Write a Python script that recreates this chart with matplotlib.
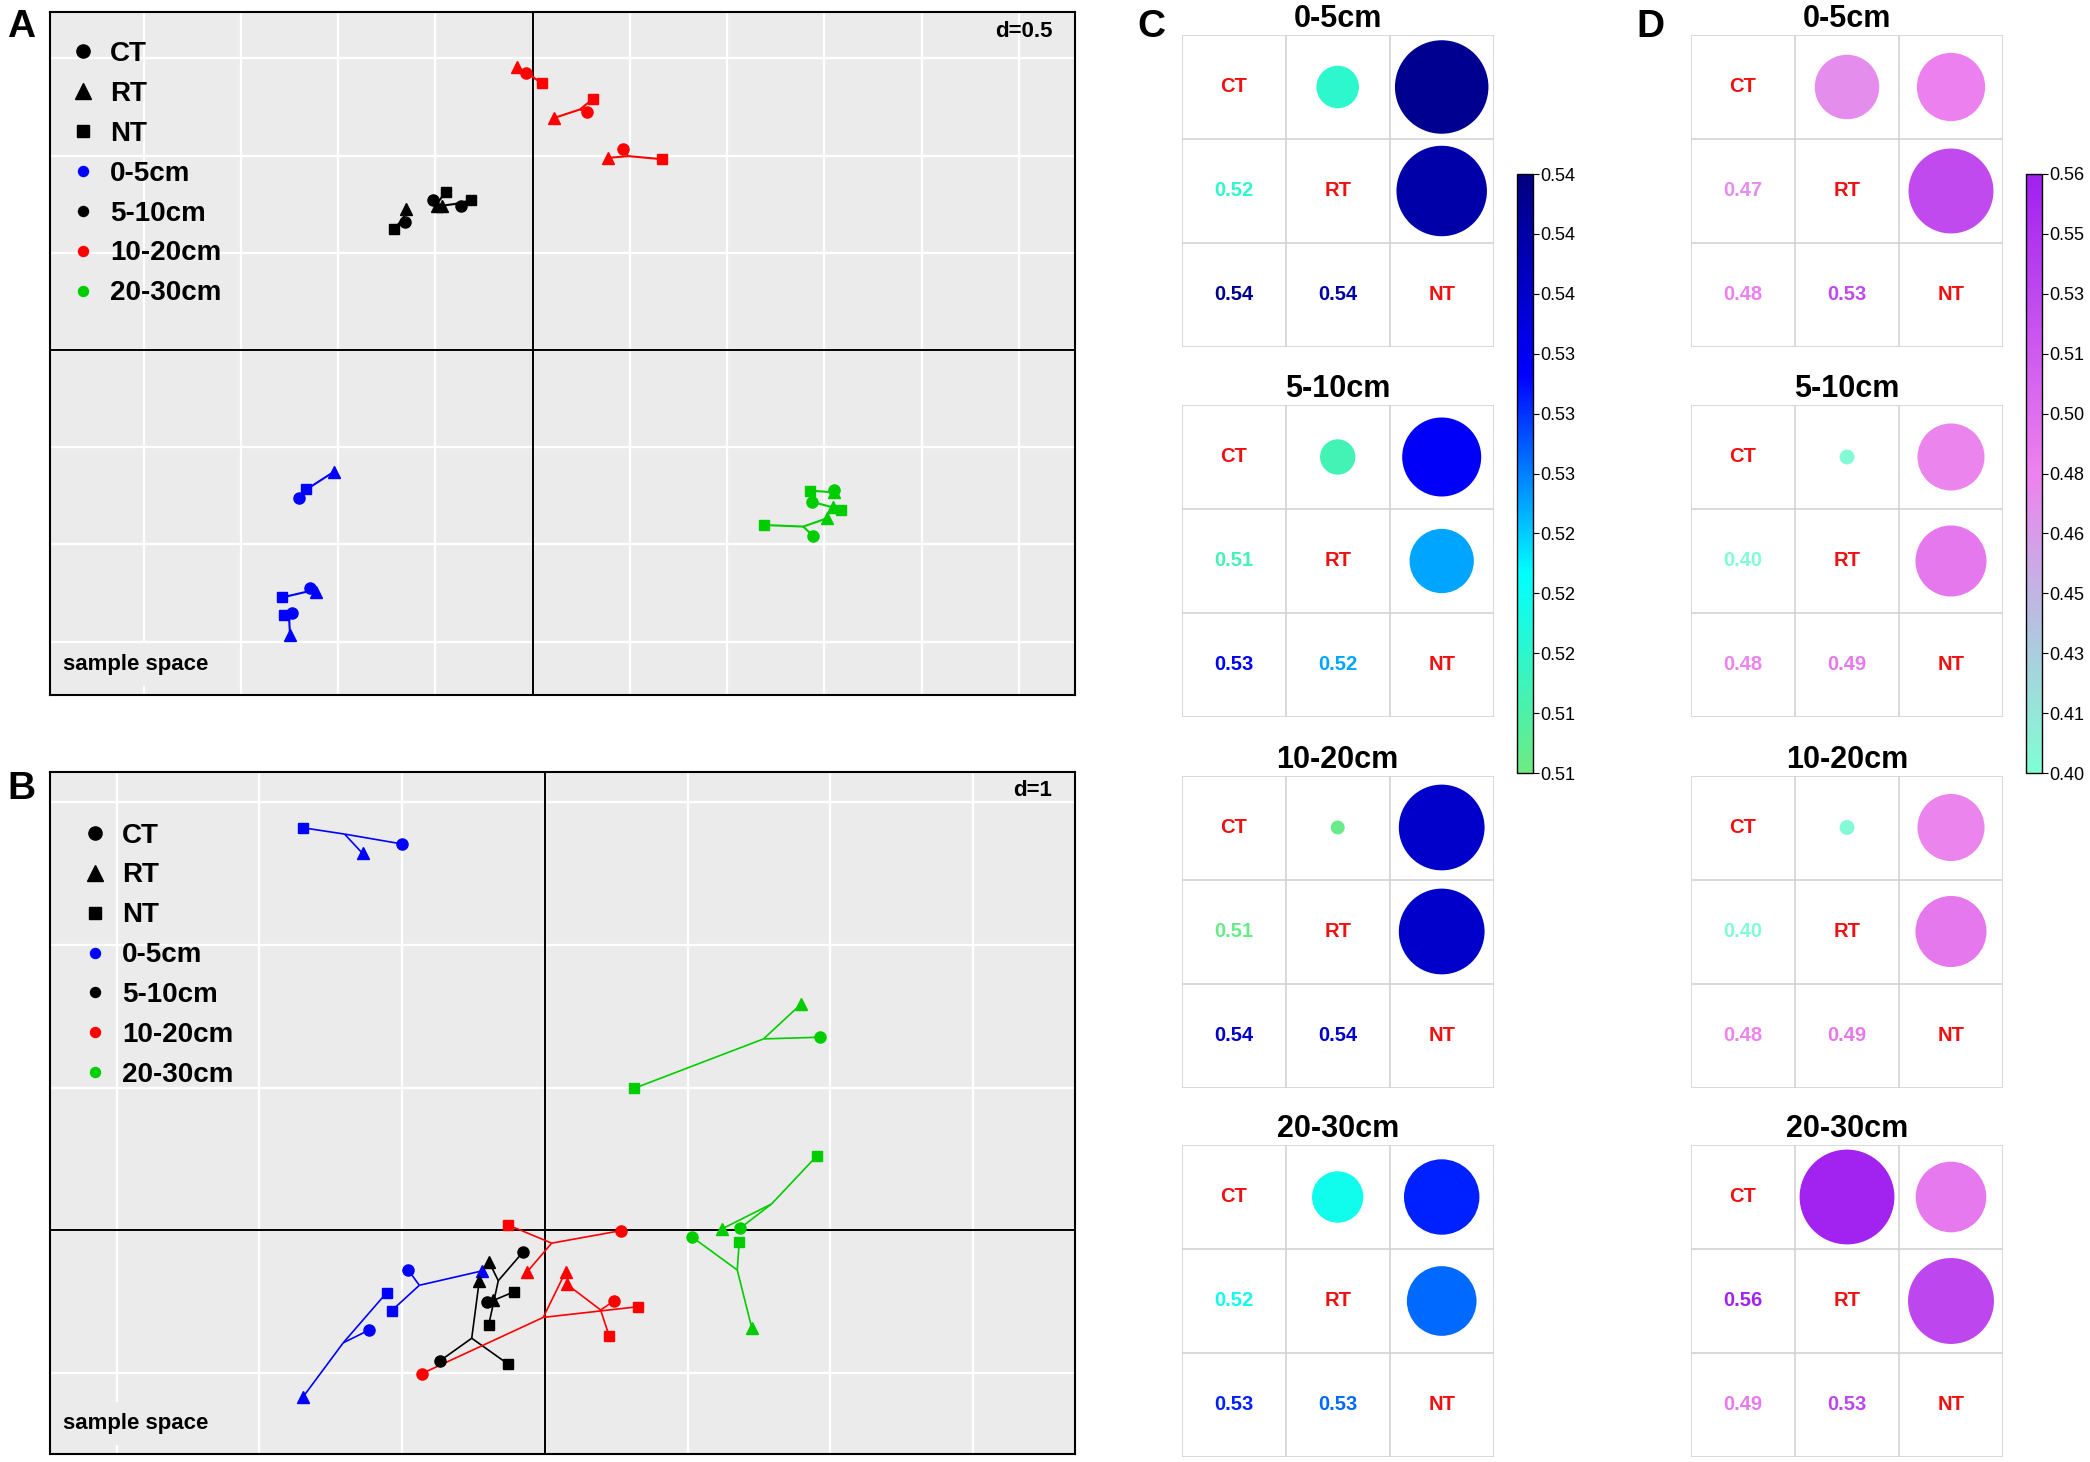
import numpy as np
import matplotlib
matplotlib.use("Agg")
import matplotlib.pyplot as plt
from matplotlib.lines import Line2D
from matplotlib.patches import Circle
from matplotlib.colors import LinearSegmentedColormap, Normalize
import matplotlib.colorbar as mcolorbar

plt.rcParams['font.family'] = ['Liberation Sans', 'DejaVu Sans']

# ---------------- data: panel A (sample space, d=0.5) ----------------
depth_names = ["0-5cm", "5-10cm", "10-20cm", "20-30cm"]
depth_colors = ["#0000FF", "#000000", "#FF0000", "#00CD00"]
treat_names = ["CT", "RT", "NT"]
treat_markers = ["o", "^", "s"]

# clusters: 3 per depth, ordered blue, black, red, green
a_depth = [0, 0, 0, 1, 1, 1, 2, 2, 2, 3, 3, 3]
a_ct_x = [-1.201, -1.145, -1.239, -0.656, -0.514, -0.369, -0.035, 0.277, 0.463, 1.551, 1.434, 1.440]
a_ct_y = [-0.763, -1.225, -1.354, 0.656, 0.771, 0.742, 1.426, 1.223, 1.036, -0.720, -0.780, -0.955]
a_rt_x = [-1.022, -1.114, -1.248, -0.653, -0.494, -0.468, -0.082, 0.110, 0.389, 1.551, 1.542, 1.511]
a_rt_y = [-0.626, -1.243, -1.465, 0.726, 0.742, 0.742, 1.457, 1.193, 0.988, -0.730, -0.809, -0.866]
a_nt_x = [-1.166, -1.287, -1.279, -0.713, -0.446, -0.317, 0.046, 0.308, 0.665, 1.426, 1.585, 1.190]
a_nt_y = [-0.716, -1.272, -1.362, 0.622, 0.814, 0.770, 1.371, 1.290, 0.981, -0.723, -0.823, -0.900]
a_cx = [-1.165, -1.162, -1.252, -0.665, -0.485, -0.399, 0.003, 0.243, 0.491, 1.520, 1.530, 1.391]
a_cy = [-0.718, -1.243, -1.388, 0.677, 0.763, 0.751, 1.402, 1.237, 0.997, -0.730, -0.806, -0.908]

# ---------------- data: panel B (sample space, d=1) ----------------
b_depth = [0, 0, 0, 1, 1, 1, 2, 2, 2, 3, 3, 3]
b_ct_x = [-1.003, -1.231, -0.960, -0.736, -0.152, -0.404, 0.533, -0.863, 0.485, 1.927, 1.366, 1.028]
b_ct_y = [2.708, -0.697, -0.274, -0.914, -0.149, -0.499, -0.001, -1.003, -0.493, 1.354, 0.015, -0.044]
b_rt_x = [-1.278, -1.693, -0.444, -0.460, -0.390, -0.362, -0.124, 0.145, 0.152, 1.792, 1.238, 1.448]
b_rt_y = [2.642, -1.164, -0.284, -0.352, -0.223, -0.487, -0.289, -0.289, -0.376, 1.584, 0.010, -0.680]
b_nt_x = [-1.694, -1.109, -1.074, -0.257, -0.394, -0.215, -0.257, 0.654, 0.450, 0.623, 1.903, 1.361]
b_nt_y = [2.821, -0.436, -0.562, -0.937, -0.662, -0.429, 0.038, -0.534, -0.740, 0.995, 0.521, -0.079]
b_cx = [-1.404, -1.413, -0.880, -0.513, -0.327, -0.366, 0.047, -0.012, 0.390, 1.531, 1.588, 1.347]
b_cy = [2.777, -0.787, -0.384, -0.755, -0.352, -0.492, -0.089, -0.609, -0.557, 1.342, 0.186, -0.277]

# ---------------- data: panels C and D (pairwise values) ----------------
# pairs: (CT,RT), (CT,NT), (RT,NT)
c_ct_rt = [0.516, 0.514, 0.5102, 0.519]
c_ct_nt = [0.541, 0.532, 0.536, 0.530]
c_rt_nt = [0.539, 0.5244, 0.536, 0.527]
c_vmin, c_vmax = 0.5095, 0.5425

d_ct_rt = [0.472, 0.401, 0.401, 0.559]
d_ct_nt = [0.481, 0.478, 0.478, 0.487]
d_rt_nt = [0.527, 0.488, 0.488, 0.530]
d_vmin, d_vmax = 0.397, 0.562

W, H = 2090, 1462
fig = plt.figure(figsize=(W / 100, H / 100), dpi=100)
BG = "#EBEBEB"


def fx(px):
    return px / W


def fy(py):
    return 1 - py / H


def ordination(ax_box, xlim, ylim, step, dlabel,
               dep, ctx, cty, rtx, rty, ntx, nty, cx, cy, lw, leg_anchor):
    l, t, r, b = ax_box
    ax = fig.add_axes([fx(l), fy(b), fx(r) - fx(l), fy(t) - fy(b)])
    ax.set_facecolor(BG)
    ax.set_xlim(*xlim)
    ax.set_ylim(*ylim)
    gx = np.arange(np.ceil(xlim[0] / step) * step, xlim[1], step)
    gy = np.arange(np.ceil(ylim[0] / step) * step, ylim[1], step)
    for g in gx:
        ax.axvline(g, color="white", lw=1.6, zorder=0.5)
    for g in gy:
        ax.axhline(g, color="white", lw=1.6, zorder=0.5)
    ax.axvline(0, color="black", lw=1.4, zorder=1)
    ax.axhline(0, color="black", lw=1.4, zorder=1)
    for i in range(len(dep)):
        col = depth_colors[dep[i]]
        for px, py in ((ctx[i], cty[i]), (rtx[i], rty[i]), (ntx[i], nty[i])):
            ax.plot([cx[i], px], [cy[i], py], color=col, lw=lw, zorder=2,
                    solid_capstyle="butt")
    sizes = {"o": 8, "^": 9, "s": 7.5}
    for i in range(len(dep)):
        col = depth_colors[dep[i]]
        for (px, py), m in zip(((ctx[i], cty[i]), (rtx[i], rty[i]), (ntx[i], nty[i])),
                               treat_markers):
            ax.plot(px, py, marker=m, ms=sizes[m], color=col, mec=col,
                    ls="none", zorder=3)
    ax.set_xticks([])
    ax.set_yticks([])
    for s in ax.spines.values():
        s.set_linewidth(1.5)
        s.set_color("black")
    lsz = {"o": 9.5, "^": 11, "s": 9}
    handles = [Line2D([], [], marker=m, color="black", ls="none", ms=lsz[m])
               for m in treat_markers]
    handles += [Line2D([], [], marker="o", color=c, ls="none", ms=7.2) for c in depth_colors]
    labels = treat_names + depth_names
    leg = ax.legend(handles, labels, loc="upper left", bbox_to_anchor=leg_anchor,
                    frameon=False, borderaxespad=0.0, borderpad=0.8,
                    handlelength=0.8, handletextpad=0.58, labelspacing=0.5,
                    prop={"size": 20, "weight": "bold"})
    leg.set_zorder(4)
    ax.text(0.978, 0.972, dlabel, transform=ax.transAxes, ha="right", va="center",
            fontsize=16, fontweight="bold")
    ax.text(0.0135, 0.045, "sample space", transform=ax.transAxes, ha="left",
            va="center", fontsize=16, fontweight="bold",
            bbox=dict(facecolor=BG, edgecolor="none", pad=8))
    return ax


ordination((49.6, 12, 1075, 695), (-2.484, 2.788), (-1.774, 1.738), 0.5, "d=0.5",
           a_depth, a_ct_x, a_ct_y, a_rt_x, a_rt_y, a_nt_x, a_nt_y, a_cx, a_cy, 1.5,
           (0.0, 0.99))
ordination((49.6, 771.7, 1075, 1454), (-3.470, 3.713), (-1.566, 3.214), 1.0, "d=1",
           b_depth, b_ct_x, b_ct_y, b_rt_x, b_rt_y, b_nt_x, b_nt_y, b_cx, b_cy, 1.2,
           (0.0117, 0.958))

# ---------------- matrices ----------------
cmap_c = LinearSegmentedColormap.from_list("c", ["#6EEB83", "#00FFFF", "#0000FF", "#000080"])
cmap_d = LinearSegmentedColormap.from_list("d", ["#7FFFD4", "#EE82EE", "#A020F0"])
grid_tops = [35, 405, 775.5, 1145]
cell = 104


def matrix_panel(x0, ctrt, ctnt, rtnt, cmap, vmin, vmax):
    norm = Normalize(vmin, vmax)
    for k in range(4):
        t = grid_tops[k]
        ax = fig.add_axes([fx(x0), fy(t + 3 * cell), fx(3 * cell), 3 * cell / H])
        ax.set_xlim(0, 3)
        ax.set_ylim(3, 0)
        ax.axis("off")
        ax.vlines(range(4), 0, 3, color="#D3D3D3", lw=1.2)
        ax.hlines(range(4), 0, 3, color="#D3D3D3", lw=1.2)
        vals = {(0, 1): ctrt[k], (0, 2): ctnt[k], (1, 2): rtnt[k]}
        for i in range(3):
            ax.text(i + 0.5, i + 0.5, treat_names[i], ha="center", va="center",
                    color="#EE1111", fontsize=14.5, fontweight="bold")
        for (i, j), v in vals.items():
            tn = norm(v)
            col = cmap(tn)
            rad = 0.5 * 0.92 * np.sqrt(max(tn, 0))
            ax.add_patch(Circle((j + 0.5, i + 0.5), rad, facecolor=col, edgecolor="none"))
            ax.text(i + 0.5, j + 0.5, f"{v:.2f}", ha="center", va="center",
                    color=col, fontsize=14.5, fontweight="bold")
        ax.text(0.5, 1.05, depth_names[k], transform=ax.transAxes, ha="center",
                va="center", fontsize=22, fontweight="bold")
    return norm


def colorbar(xl, cmap, norm, vmin, vmax):
    cax = fig.add_axes([fx(xl), fy(773), fx(16), (773 - 174) / H])
    cb = mcolorbar.ColorbarBase(cax, cmap=cmap, norm=norm, orientation="vertical",
                                ticks=np.linspace(vmin, vmax, 11), format="%.2f")
    cb.outline.set_linewidth(1.0)
    cax.tick_params(length=4, width=0.8, pad=1, labelsize=13)


nc = matrix_panel(1181.7, c_ct_rt, c_ct_nt, c_rt_nt, cmap_c, c_vmin, c_vmax)
colorbar(1517, cmap_c, nc, c_vmin, c_vmax)
nd = matrix_panel(1691, d_ct_rt, d_ct_nt, d_rt_nt, cmap_d, d_vmin, d_vmax)
colorbar(2026, cmap_d, nd, d_vmin, d_vmax)

for lab, x, y in (("A", 7, 9), ("B", 7, 771), ("C", 1137, 9), ("D", 1636, 9)):
    fig.text(fx(x), fy(y), lab, ha="left", va="top", fontsize=28, fontweight="bold")

fig.savefig("out.png", dpi=100)
